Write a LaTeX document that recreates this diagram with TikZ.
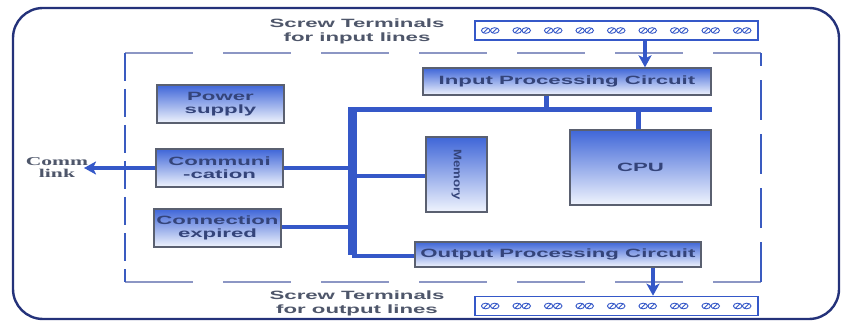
\documentclass[tikz,border=0pt]{standalone}
\usepackage{fontspec}
\usetikzlibrary{arrows.meta,calc}
\newfontfamily\lblfont[FakeStretch=1.85]{Liberation Sans}
\newfontfamily\linkfont[FakeStretch=1.8]{Liberation Serif}
\newfontfamily\memfont[FakeStretch=1.2]{Liberation Sans}
\definecolor{frameblue}{HTML}{24327A}
\definecolor{busblue}{HTML}{3558C8}
\definecolor{dashgray}{HTML}{8C96C4}
\definecolor{dashblue}{HTML}{3A5BC0}
\definecolor{boxtop}{HTML}{3F66D8}
\definecolor{boxbot}{HTML}{F0F4FD}
\definecolor{boxedge}{HTML}{5A6070}
\definecolor{txtblue}{HTML}{34447A}
\definecolor{txtgray}{HTML}{4E566A}
\begin{document}
\begin{tikzpicture}[x=1pt,y=-1pt,
  blockbox/.style={draw=boxedge,line width=1.3pt,top color=boxtop,bottom color=boxbot,
    inner sep=0pt,align=center,text=txtblue,font=\lblfont\bfseries\fontsize{12}{13}\selectfont},
  termbox/.style={draw=busblue,line width=1.6pt,fill=white,inner sep=0pt},
  busline/.style={draw=busblue,line width=3.2pt},
  thickbus/.style={draw=busblue,line width=5pt},
  arrowline/.style={draw=busblue,line width=4pt,-{Stealth[length=12pt,width=13pt,inset=3pt]}},
  glyph/.style={draw=busblue,line width=0.9pt},
  caption/.style={align=center,text=txtgray,font=\lblfont\bfseries\fontsize{12}{14}\selectfont},
]
\useasboundingbox (0,0) rectangle (843,323);
% outer frame
\draw[frameblue,line width=2.4pt,fill=white,rounded corners=30pt] (13,8) rectangle (839,319);
% dashed enclosure
\draw[dashgray,line width=2.8pt,dash pattern=on 68pt off 30pt] (125,53) -- (761,53);
\draw[dashgray,line width=2.8pt,dash pattern=on 68pt off 30pt] (125,282) -- (761,282);
\draw[dashblue,line width=2.8pt,dash pattern=on 28pt off 8pt] (125,53) -- (125,282);
\draw[dashblue,line width=2.8pt,dash pattern=on 40pt off 14pt] (761,282) -- (761,53);

% blocks
\node[blockbox,minimum width=127pt,minimum height=38pt] (psu) at (220.5,104) {Power\\supply};
\node[blockbox,minimum width=127pt,minimum height=38pt] (comm) at (219.5,168) {Communi\\-cation};
\node[blockbox,minimum width=127pt,minimum height=38pt] (conn) at (217.5,228) {Connection\\expired};
\node[blockbox,minimum width=288pt,minimum height=27pt] (ipc) at (567,81.5) {Input Processing Circuit};
\node[blockbox,minimum width=286pt,minimum height=25pt] (opc) at (558,254.5) {Output Processing Circuit};
\node[blockbox,minimum width=61pt,minimum height=75pt] (mem) at (456.5,174.5) {\rotatebox{-90}{\memfont\bfseries\fontsize{11}{12}\selectfont Memory}};
\node[blockbox,minimum width=141pt,minimum height=75pt] (cpu) at (640.5,167.5) {CPU};

% terminals
\node[termbox,minimum width=283pt,minimum height=19pt] (tin) at (616.5,30.5) {};
\node[termbox,minimum width=283pt,minimum height=19pt] (tout) at (616.5,306) {};
\foreach \t in {tin,tout}{
  \foreach \i in {0,...,8}{
    \path ($(\t.west)+(16+\i*31.5,0)$) coordinate (g);
    \draw[glyph] ($(g)+(-4.5,0)$) ellipse (4.3pt and 2.8pt);
    \draw[glyph] ($(g)+(4.5,0)$) ellipse (4.3pt and 2.8pt);
    \draw[glyph] ($(g)+(-7,2.5)$) -- ($(g)+(-2,-2.5)$);
    \draw[glyph] ($(g)+(2,2.5)$) -- ($(g)+(7,-2.5)$);
  }
}

% captions
\node[caption] (capin) at (357,31) {Screw Terminals\\for input lines};
\node[caption] (capout) at (357,303) {Screw Terminals\\for output lines};
\node[align=center,text=txtgray,font=\linkfont\bfseries\fontsize{12}{12}\selectfont] (link) at (57,168) {Comm\\link};
\coordinate (linkend) at (84,168);

% bus
\coordinate (bustop) at (352,110);
\coordinate (busbot) at (352,255);
\coordinate (busright) at (712,110);
\draw[busblue,line width=9pt] ([yshift=-2pt]bustop) -- (busbot);
\draw[thickbus] ([xshift=-4pt]bustop) -- (busright);
\draw[thickbus] ([xshift=-21pt]ipc.south) -- ([xshift=-21pt]ipc.south |- bustop);
\draw[thickbus] ([xshift=-2.5pt]cpu.north) -- ([xshift=-2.5pt]cpu.north |- bustop);
\draw[busline] (comm.east) -- (comm.east -| bustop);
\draw[busline] ([yshift=-1.5pt]mem.west) -- ([yshift=-1.5pt]mem.west -| bustop);
\draw[busline] ([yshift=1pt]conn.east) -- ([yshift=1pt]conn.east -| bustop);
\draw[busline] ([yshift=-1.5pt]opc.west) -- ([yshift=-1.5pt]opc.west -| bustop);
\draw[arrowline] (comm.west) -- (linkend);

% terminal arrows
\draw[arrowline] ([xshift=28.5pt]tin.south) -- ([xshift=28.5pt]tin.south |- ipc.north);
\draw[arrowline] ([xshift=95pt]opc.south) -- ([xshift=95pt]opc.south |- tout.north);
\end{tikzpicture}
\end{document}
